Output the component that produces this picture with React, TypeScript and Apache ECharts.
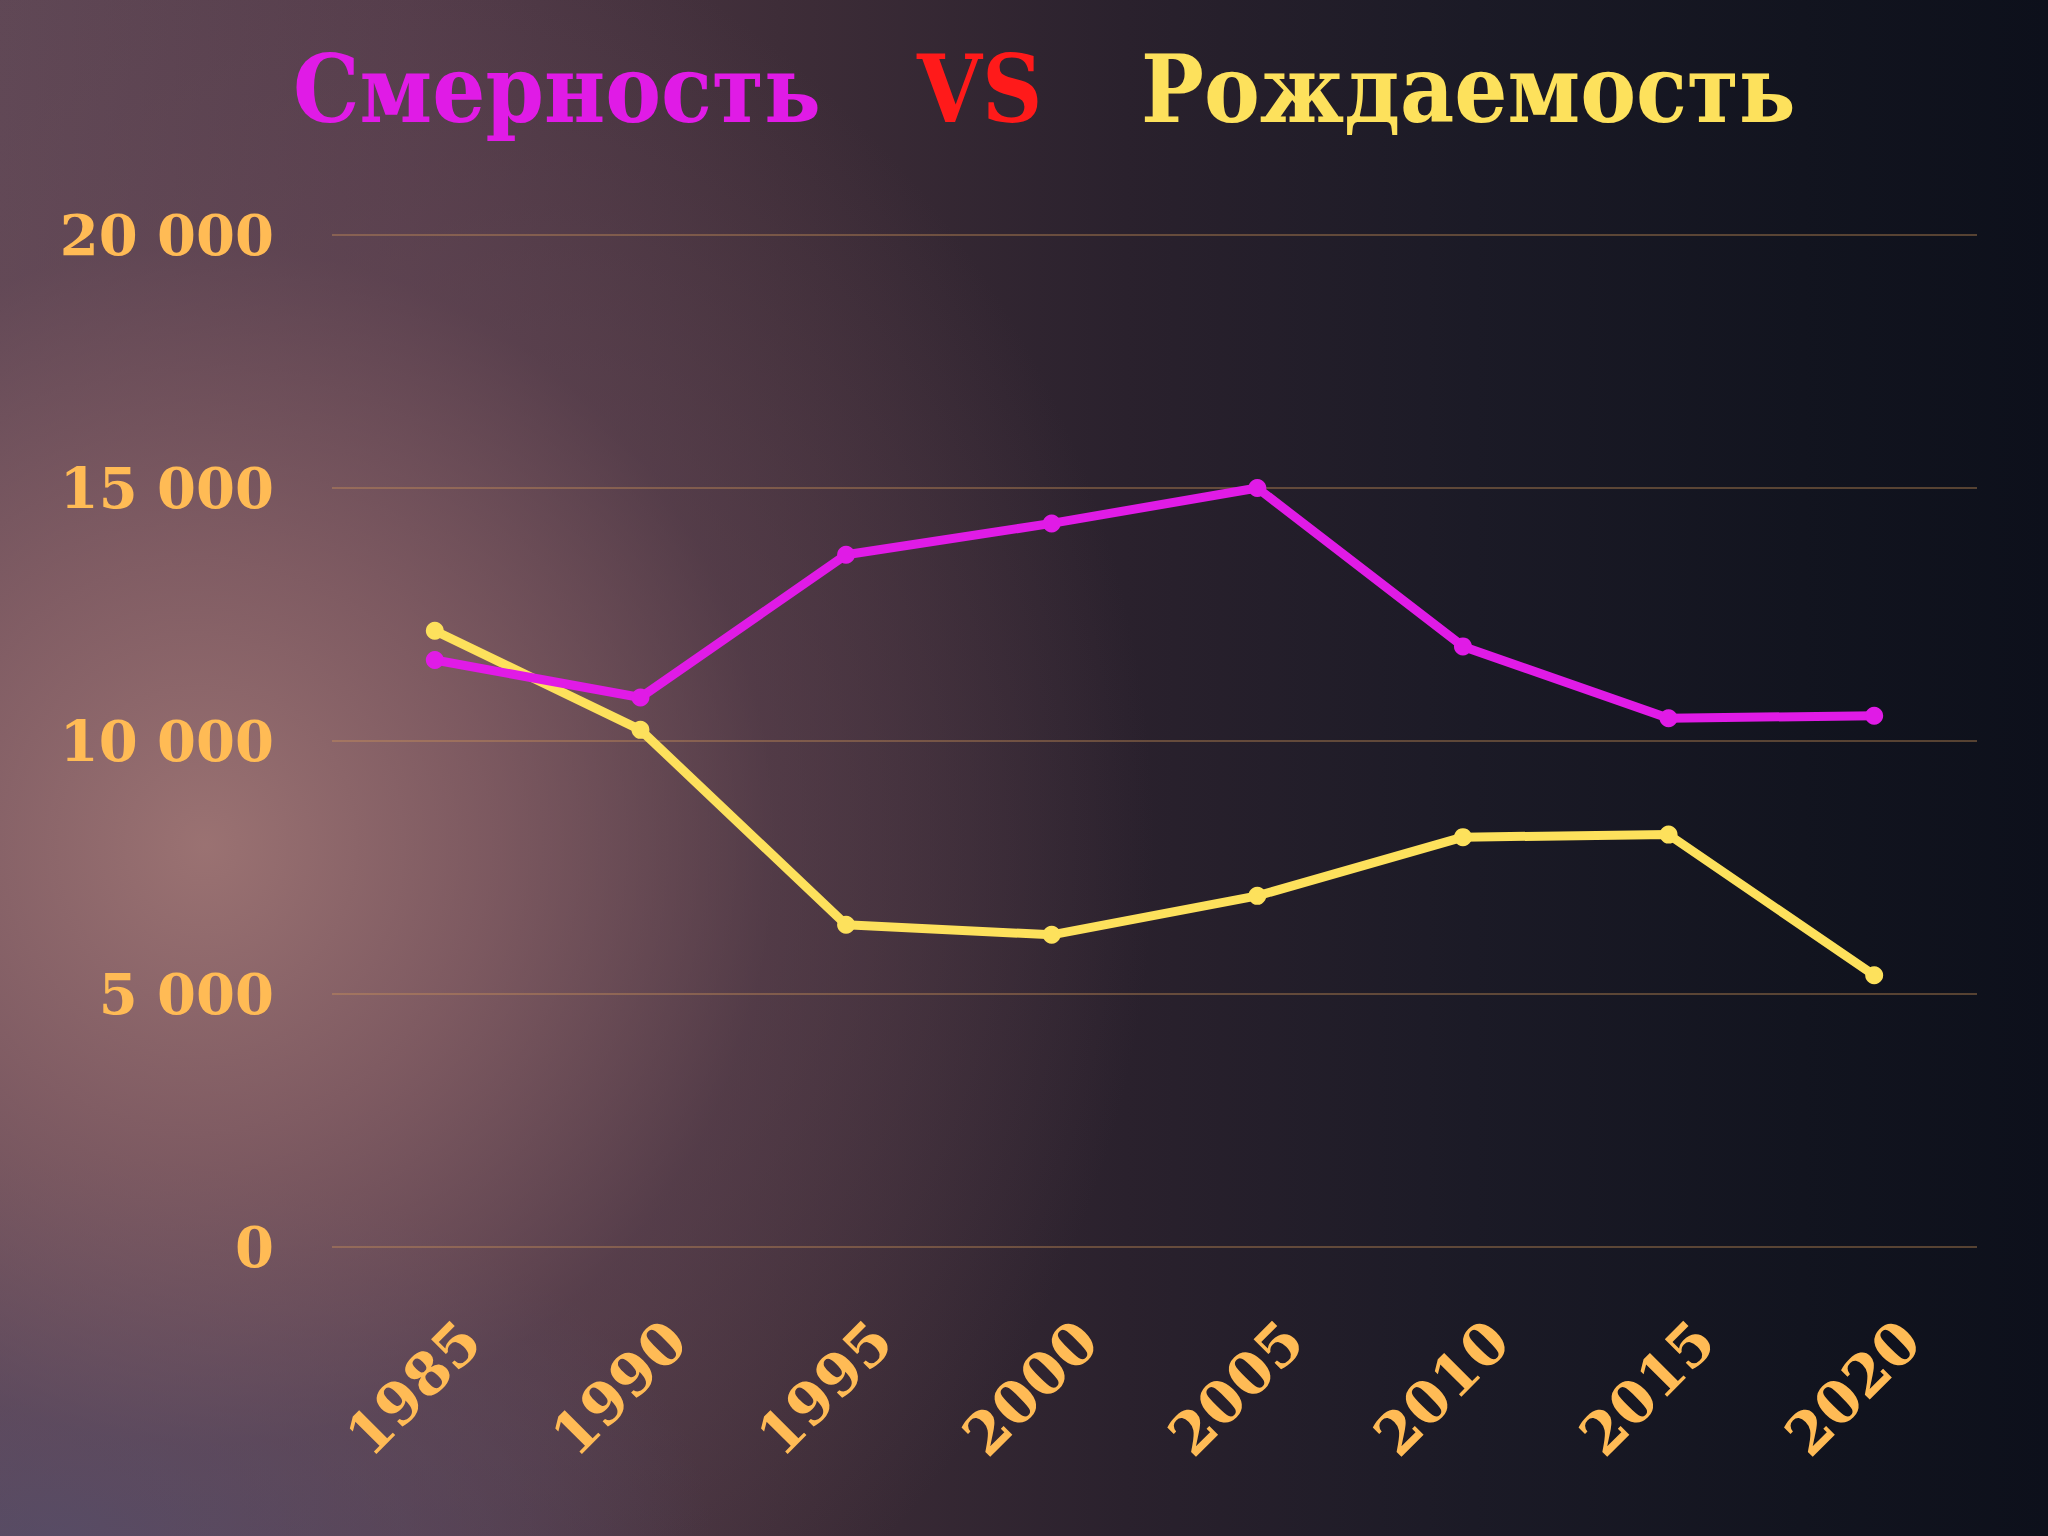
import React, { useEffect, useRef } from "react";
import * as echarts from "echarts";

const years = ["1985", "1990", "1995", "2000", "2005", "2010", "2015", "2020"];
const deaths = [11600, 10860, 13680, 14300, 15000, 11870, 10450, 10500];
const births = [12180, 10220, 6370, 6170, 6940, 8100, 8150, 5370];
const titleParts = ["Смерность", "VS", "Рождаемость"];

const MAGENTA = "#e01be6";
const YELLOW = "#fde15c";
const ORANGE = "#ffbb55";
const RED = "#ff1a1a";

export default function App() {
  const ref = useRef<HTMLDivElement>(null);
  useEffect(() => {
    const chart = echarts.init(ref.current!, null, { renderer: "svg" });
    const titleFont = {
      fontFamily: "'DejaVu Serif Condensed', 'DejaVu Serif', serif",
      fontWeight: "bold" as const,
      fontSize: 93,
    };
    chart.setOption({
      animation: false,
      backgroundColor: "transparent",
      title: [
        { text: titleParts[0], left: 288, top: 38, textStyle: { ...titleFont, color: MAGENTA } },
        { text: titleParts[1], left: 912, top: 38, textStyle: { ...titleFont, color: RED } },
        { text: titleParts[2], left: 1136, top: 38, textStyle: { ...titleFont, color: YELLOW } },
      ],
      grid: { left: 332, right: 71, top: 235, bottom: 289, containLabel: false },
      xAxis: {
        type: "category",
        data: years,
        boundaryGap: true,
        axisLine: { show: false },
        axisTick: { show: false },
        axisLabel: {
          rotate: 45,
          align: "center",
          verticalAlign: "middle",
          margin: 120,
          padding: [0, 60, 0, 0],
          color: ORANGE,
          fontFamily: "'DejaVu Serif', serif",
          fontWeight: "bold",
          fontSize: 58,
        },
      },
      yAxis: {
        type: "value",
        min: 0,
        max: 20000,
        interval: 5000,
        axisLine: { show: false },
        axisTick: { show: false },
        splitLine: { lineStyle: { color: "rgba(210,150,90,0.5)", width: 1.5 } },
        axisLabel: {
          margin: 58,
          color: ORANGE,
          fontFamily: "'DejaVu Serif', serif",
          fontWeight: "bold",
          fontSize: 56,
          formatter: (v: number) =>
            v === 0 ? "0" : Math.floor(v / 1000) + " " + String(v % 1000).padStart(3, "0"),
        },
      },
      series: [
        {
          name: titleParts[0],
          type: "line",
          data: deaths,
          symbol: "circle",
          symbolSize: 18,
          lineStyle: { color: MAGENTA, width: 9 },
          itemStyle: { color: MAGENTA },
        },
        {
          name: titleParts[2],
          type: "line",
          data: births,
          symbol: "circle",
          symbolSize: 18,
          lineStyle: { color: YELLOW, width: 9 },
          itemStyle: { color: YELLOW },
          z: 1,
        },
      ],
    });
    return () => chart.dispose();
  }, []);

  return (
    <div
      style={{
        position: "fixed",
        left: 0,
        top: 0,
        width: 2048,
        height: 1536,
        background:
          "radial-gradient(ellipse 950px 1000px at 10% 55%, rgba(160,118,117,0.92) 0%, rgba(140,100,105,0.75) 30%, rgba(105,75,88,0.45) 60%, rgba(70,50,65,0) 100%)," +
          "radial-gradient(ellipse 650px 380px at 3% 100%, rgba(78,76,108,0.95) 0%, rgba(70,65,95,0) 100%)," +
          "linear-gradient(90deg, #5e4755 0%, #523b49 20%, #3e2d38 38%, #2a212d 55%, #1b1a26 72%, #12141f 88%, #0d101b 100%)",
      }}
    >
      <div ref={ref} style={{ width: 2048, height: 1536 }} />
    </div>
  );
}
